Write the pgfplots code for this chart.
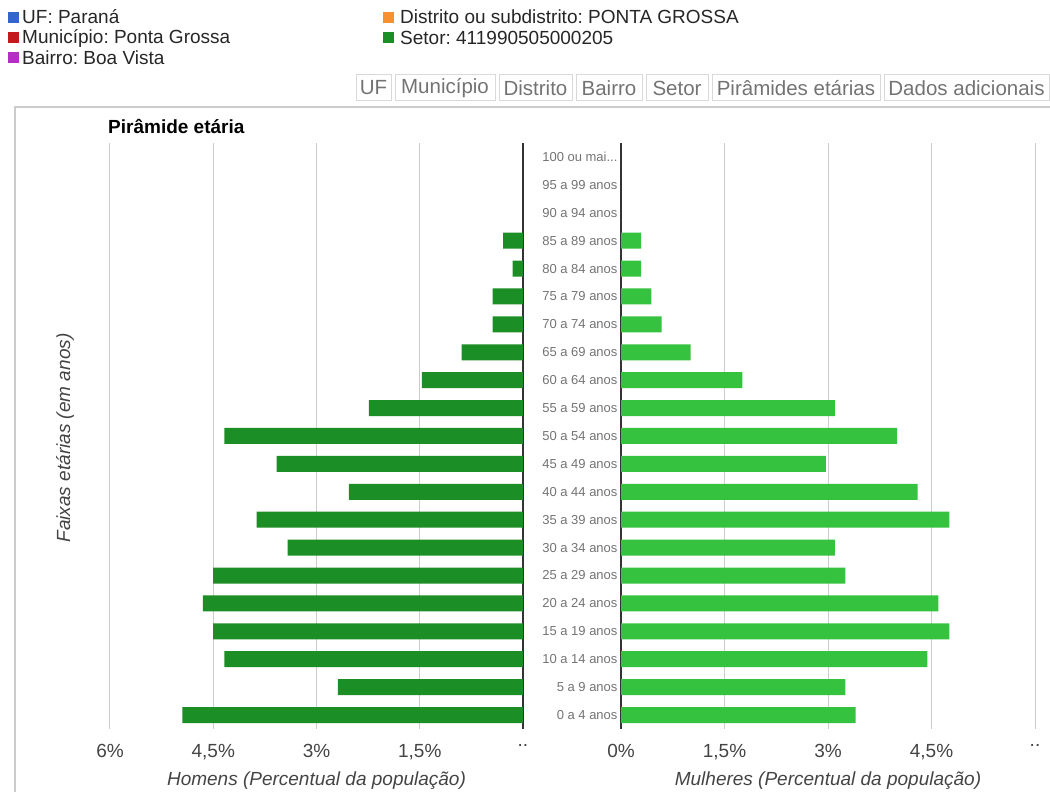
\documentclass[border=0pt]{standalone}
\usepackage{fontspec}
\setmainfont{Liberation Sans}
\usepackage{pgfplots}
\usepackage{pgfplotstable}
\pgfplotsset{compat=1.18}
\frenchspacing
\definecolor{mgreen}{HTML}{1B8E25}
\definecolor{fgreen}{HTML}{35C23F}
\definecolor{gridc}{HTML}{CCCCCC}
\definecolor{txt}{HTML}{444444}
\definecolor{lblue}{HTML}{3366CC}
\definecolor{lred}{HTML}{C41A1D}
\definecolor{lmag}{HTML}{B62FC4}
\definecolor{lorange}{HTML}{F7902F}
\pgfplotstableread{
age homens mulheres
0 4.95 3.40
1 2.69 3.25
2 4.34 4.44
3 4.50 4.76
4 4.65 4.60
5 4.50 3.25
6 3.42 3.10
7 3.87 4.76
8 2.53 4.30
9 3.58 2.97
10 4.34 4.00
11 2.24 3.10
12 1.47 1.76
13 0.89 1.01
14 0.44 0.59
15 0.44 0.44
16 0.15 0.29
17 0.29 0.29
}\piramide
\newcommand{\fs}{\fontsize{19}{21}\selectfont}
\newcommand{\dd}{{.}{.}}
\begin{document}
\begin{tikzpicture}
\useasboundingbox (0pt,0pt) rectangle (1050pt,792pt);
% frame
\draw[gridc, line width=1.5pt] (15pt,0pt) -- (15pt,685pt) -- (1050pt,685pt);
% legend
\fill[lblue] (8pt,769pt) rectangle (19pt,780pt);
\node[anchor=west, inner sep=0, font=\fs, text=black!85] at (22pt,775pt) {UF: Paraná};
\fill[lred] (8pt,749pt) rectangle (19pt,760pt);
\node[anchor=west, inner sep=0, font=\fs, text=black!85] at (22pt,754pt) {Município: Ponta Grossa};
\fill[lmag] (8pt,729pt) rectangle (19pt,740pt);
\node[anchor=west, inner sep=0, font=\fs, text=black!85] at (22pt,734pt) {Bairro: Boa Vista};
\fill[lorange] (383pt,769pt) rectangle (394pt,780pt);
\node[anchor=west, inner sep=0, font=\fs, text=black!85] at (400pt,775pt) {Distrito ou subdistrito: PONTA GROSSA};
\fill[mgreen] (383pt,749pt) rectangle (394pt,760pt);
\node[anchor=west, inner sep=0, font=\fs, text=black!85] at (400pt,754pt) {Setor: 411990505000205};
% buttons
\foreach \a/\b/\t in {356/391/UF,395/495/Município,499/572/Distrito,576/642/Bairro,646/708/Setor,712/880/Pirâmides etárias,884/1049/Dados adicionais}{
  \draw[black!15, line width=1pt] (\a pt,691pt) rectangle (\b pt,717pt);
  \node[font=\fontsize{20.5}{22}\selectfont, text=black!55, inner sep=0] at ({(\a+\b)/2*1pt},704pt) {\t};
}
% title and y label
\node[anchor=west, inner sep=0, font=\bfseries\fs] at (108pt,665pt) {Pirâmide etária};
\node[rotate=90, inner sep=0, font=\itshape\fs, text=txt] at (65pt,354pt) {Faixas etárias (em anos)};
% left axis (homens)
\begin{axis}[at={(110pt,63pt)}, anchor=south west, scale only axis,
  width=413pt, height=586pt,
  xmin=0, xmax=6, x dir=reverse, ymin=-0.5, ymax=20.5,
  axis line style={draw=none}, major tick length=0pt,
  xtick={1.5,3,4.5,6}, xticklabels={{1,5\%},{3\%},{4,5\%},{6\%}},
  extra x ticks={0}, extra x tick labels={\dd},
  extra x tick style={grid style={black!80, line width=1.5pt}},
  xmajorgrids, grid style={gridc, line width=1pt},
  ytick=\empty,
  tick label style={font=\fs, text=txt},
  xticklabel style={yshift=-12pt},
  xlabel={\itshape Homens (Percentual da população)},
  xlabel style={font=\fs, text=txt, yshift=-5pt},
  clip=false]
\addplot[xbar, bar width=16pt, fill=mgreen, draw=none] table[x=homens, y=age] {\piramide};
\end{axis}
% right axis (mulheres)
\begin{axis}[at={(621pt,63pt)}, anchor=south west, scale only axis,
  width=414pt, height=586pt,
  xmin=0, xmax=6, ymin=-0.5, ymax=20.5,
  axis line style={draw=none}, major tick length=0pt,
  xtick={1.5,3,4.5,6}, xticklabels={{1,5\%},{3\%},{4,5\%},{\dd}},
  extra x ticks={0}, extra x tick labels={0\%},
  extra x tick style={grid style={black!80, line width=1.5pt}},
  xmajorgrids, grid style={gridc, line width=1pt},
  ytick={0,1,2,3,4,5,6,7,8,9,10,11,12,13,14,15,16,17,18,19,20},
  yticklabels={0 a 4 anos,5 a 9 anos,10 a 14 anos,15 a 19 anos,20 a 24 anos,25 a 29 anos,30 a 34 anos,35 a 39 anos,40 a 44 anos,45 a 49 anos,50 a 54 anos,55 a 59 anos,60 a 64 anos,65 a 69 anos,70 a 74 anos,75 a 79 anos,80 a 84 anos,85 a 89 anos,90 a 94 anos,95 a 99 anos,{100 ou mai{.}{.}{.}}},
  yticklabel style={font=\fontsize{13}{14}\selectfont, text=black!55},
  xticklabel style={font=\fs, text=txt, yshift=-12pt},
  xlabel={\itshape Mulheres (Percentual da população)},
  xlabel style={font=\fs, text=txt, yshift=-5pt},
  clip=false]
\addplot[xbar, bar width=16pt, fill=fgreen, draw=none] table[x=mulheres, y=age] {\piramide};
\end{axis}
\end{tikzpicture}
\end{document}
